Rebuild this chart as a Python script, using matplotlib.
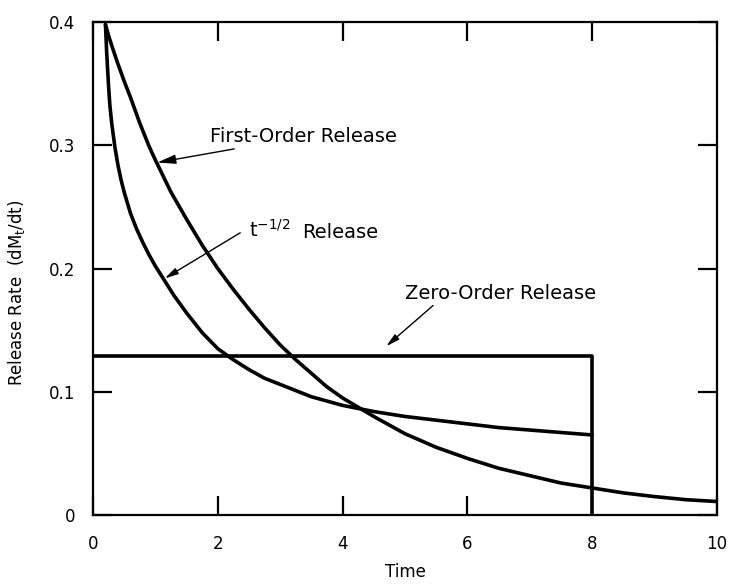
import matplotlib
import matplotlib.pyplot as plt

matplotlib.use('Agg')
plt.rcParams['font.family'] = ['DejaVu Sans']

# values
first_order_t = [0.2, 0.25, 0.3, 0.4, 0.5, 0.6, 0.75, 0.9, 1.0, 1.25, 1.5, 1.75, 2.0, 2.25,
                 2.5, 2.75, 3.0, 3.25, 3.5, 3.75, 4.0, 4.5, 5.0, 5.5, 6.0, 6.5, 7.0, 7.5,
                 8.0, 8.5, 9.0, 9.5, 10.0]
first_order_rate = [0.398, 0.389, 0.381, 0.366, 0.352, 0.339, 0.318, 0.299, 0.288, 0.262,
                    0.240, 0.219, 0.200, 0.183, 0.167, 0.152, 0.138, 0.126, 0.115, 0.104,
                    0.095, 0.080, 0.066, 0.055, 0.046, 0.038, 0.032, 0.026, 0.022, 0.018,
                    0.015, 0.0125, 0.011]

root_t = [0.2, 0.22, 0.25, 0.27, 0.3, 0.35, 0.4, 0.45, 0.5, 0.6, 0.7, 0.8, 0.9, 1.0, 1.15,
          1.3, 1.5, 1.75, 2.0, 2.25, 2.5, 2.75, 3.0, 3.5, 4.0, 4.5, 5.0, 5.5, 6.0, 6.5,
          7.0, 7.5, 8.0]
root_rate = [0.398, 0.375, 0.348, 0.333, 0.318, 0.299, 0.284, 0.272, 0.262, 0.245, 0.232,
             0.221, 0.211, 0.202, 0.190, 0.178, 0.164, 0.148, 0.135, 0.126, 0.118, 0.111,
             0.106, 0.096, 0.089, 0.084, 0.080, 0.077, 0.074, 0.071, 0.069, 0.067, 0.065]

zero_order_t = [0.0, 8.0, 8.0]
zero_order_rate = [0.129, 0.129, 0.0]

x_ticks = [0, 2, 4, 6, 8, 10]
y_ticks = [0, 0.1, 0.2, 0.3, 0.4]
y_tick_labels = ['0', '0.1', '0.2', '0.3', '0.4']

fig = plt.figure(figsize=(7.32, 5.88), dpi=100)
ax = fig.add_axes([0.127, 0.124, 0.8525, 0.8386])

ax.plot(first_order_t, first_order_rate, c='k', lw=2.6, solid_capstyle='round',
        solid_joinstyle='round')
ax.plot(root_t, root_rate, c='k', lw=2.6, solid_capstyle='round', solid_joinstyle='round')
ax.plot(zero_order_t, zero_order_rate, c='k', lw=2.6)

ax.set_xlim(0, 10)
ax.set_ylim(0, 0.4)
ax.set_xticks(x_ticks)
ax.set_yticks(y_ticks)
ax.set_yticklabels(y_tick_labels)

for spine in ax.spines.values():
    spine.set_linewidth(1.6)

ax.tick_params(direction='in', length=14, width=1.6, top=True, right=True,
               labelsize=12, colors='k')
ax.tick_params(axis='x', pad=14)
ax.tick_params(axis='y', pad=13)

ax.set_xlabel('Time', fontsize=12)
ax.xaxis.set_label_coords(0.5, -0.098)
ax.set_ylabel('Release Rate  (dM$_\\mathregular{t}$/dt)', fontsize=12)
ax.yaxis.set_label_coords(-0.105, 0.45)

arrow = dict(arrowstyle='-|>,head_length=0.8,head_width=0.2', lw=1.0, color='k',
             shrinkA=0, shrinkB=0)

ax.annotate('First-Order Release', xy=(1.03, 0.286), xytext=(1.88, 0.307),
            fontsize=14, va='center', ha='left', arrowprops=arrow)
ax.annotate('', xy=(1.15, 0.192), xytext=(2.36, 0.229), arrowprops=arrow)
ax.text(2.5, 0.231, 't$^{\\mathregular{-1/2}}$', fontsize=14, va='center', ha='left')
ax.text(3.35, 0.229, 'Release', fontsize=14, va='center', ha='left')
ax.text(5.0, 0.180, 'Zero-Order Release', fontsize=14, va='center', ha='left')
ax.annotate('', xy=(4.7, 0.137), xytext=(5.45, 0.170), arrowprops=arrow)

plt.savefig('out.png', dpi=100)
plt.close()
